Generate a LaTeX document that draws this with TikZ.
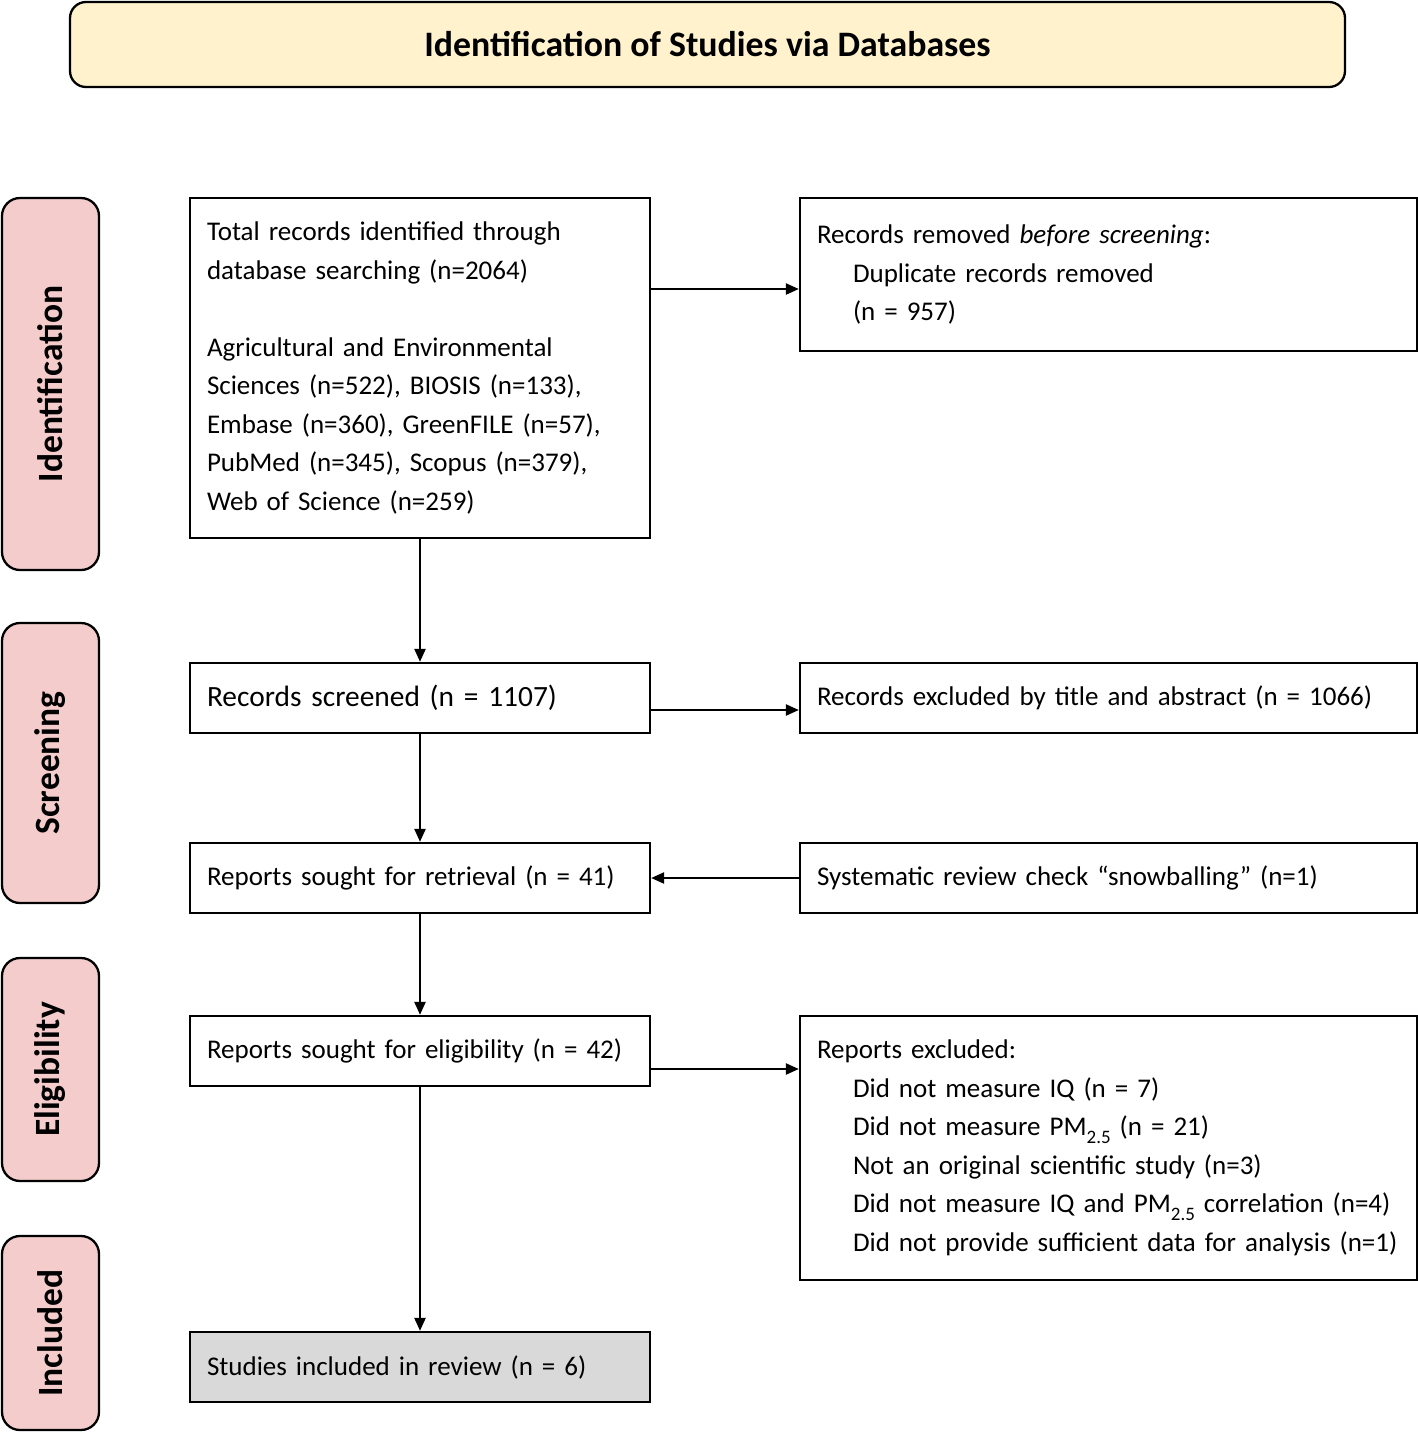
\documentclass[tikz,border=0pt]{standalone}
\usepackage{fontspec}
\setmainfont{Carlito}
\usetikzlibrary{arrows.meta,calc}
\definecolor{titlefill}{HTML}{FFF2CC}
\definecolor{sidefill}{HTML}{F4CCCC}
\definecolor{incfill}{HTML}{D9D9D9}
\newcommand\subtxt[1]{\raisebox{-8pt}{\fontsize{19}{19}\selectfont #1}}
\begin{document}
\begin{tikzpicture}[x=1pt,y=-1pt,
  lbox/.style={draw,line width=2.3pt,rectangle,minimum width=460pt,text width=426pt,inner xsep=17pt,inner ysep=0pt,align=left,font=\fontsize{27}{38.5}\selectfont},
  rbox/.style={draw,line width=2.3pt,rectangle,minimum width=617pt,text width=583pt,inner xsep=17pt,inner ysep=0pt,align=left,font=\fontsize{27}{38.5}\selectfont},
  side/.style={draw,line width=2.3pt,rectangle,rounded corners=18pt,fill=sidefill,rotate=90,minimum height=97pt,inner sep=0pt,font=\fontsize{35.5}{40}\selectfont\bfseries},
  arr/.style={line width=2.3pt,-{Triangle[length=13pt,width=11pt]}}
]
\useasboundingbox (0,0) rectangle (1418,1433);

\node[draw,line width=2.3pt,rounded corners=16pt,fill=titlefill,minimum width=1275pt,minimum height=85pt,inner sep=0pt,font=\fontsize{35.8}{40}\selectfont\bfseries] (title) at (707.5,44.5) {Identification of Studies via Databases};

\node[side,minimum width=372pt] (sid) at (50.5,384) {Identification};
\node[side,minimum width=280pt] (sscr) at (50.5,763) {Screening};
\node[side,minimum width=223pt] (selig) at (50.5,1069.5) {Eligibility};
\node[side,minimum width=194pt] (sinc) at (50.5,1333) {Included};

\node[lbox,minimum height=340pt] (total) at (420,368) {Total records identified through\\database searching (n=2064)\\[38.5pt]Agricultural and Environmental\\Sciences (n=522), BIOSIS (n=133),\\Embase (n=360), GreenFILE (n=57),\\PubMed (n=345), Scopus (n=379),\\Web of Science (n=259)};

\node[rbox,minimum height=153pt] (removed) at (1108.5,274.5) {Records removed \textit{before screening}:\\\hspace*{36pt}Duplicate records removed\\\hspace*{36pt}(n = 957)};

\node[lbox,minimum height=70pt,font=\fontsize{29.4}{38.5}\selectfont] (screened) at (420,698) {Records screened (n = 1107)};
\node[rbox,minimum height=70pt] (excluded) at (1108.5,698) {Records excluded by title and abstract (n = 1066)};

\node[lbox,minimum height=70pt] (retrieval) at (420,878) {Reports sought for retrieval (n = 41)};
\node[rbox,minimum height=70pt] (snow) at (1108.5,878) {Systematic review check “snowballing” (n=1)};

\node[lbox,minimum height=70pt] (elig) at (420,1051) {Reports sought for eligibility (n = 42)};
\node[rbox,minimum height=264pt] (repexc) at (1108.5,1148) {Reports excluded:\\
\hspace*{36pt}Did not measure IQ (n = 7)\\
\hspace*{36pt}Did not measure PM\subtxt{2.5} (n = 21)\\
\hspace*{36pt}Not an original scientific study (n=3)\\
\hspace*{36pt}\mbox{Did not measure IQ and PM\subtxt{2.5} correlation (n=4)}\\
\hspace*{36pt}\mbox{Did not provide sufficient data for analysis (n=1)}};

\node[lbox,minimum height=70pt,fill=incfill] (included) at (420,1367) {Studies included in review (n = 6)};

\draw[arr] (total.south) -- (screened.north);
\draw[arr] (screened.south) -- (retrieval.north);
\draw[arr] (retrieval.south) -- (elig.north);
\draw[arr] (elig.south) -- (included.north);
\draw[arr] (total.east |- 0,289) -- (removed.west |- 0,289);
\draw[arr] (screened.east |- 0,710) -- (excluded.west |- 0,710);
\draw[arr] (snow.west) -- (retrieval.east);
\draw[arr] (elig.east |- 0,1069) -- (repexc.west |- 0,1069);
\end{tikzpicture}
\end{document}
